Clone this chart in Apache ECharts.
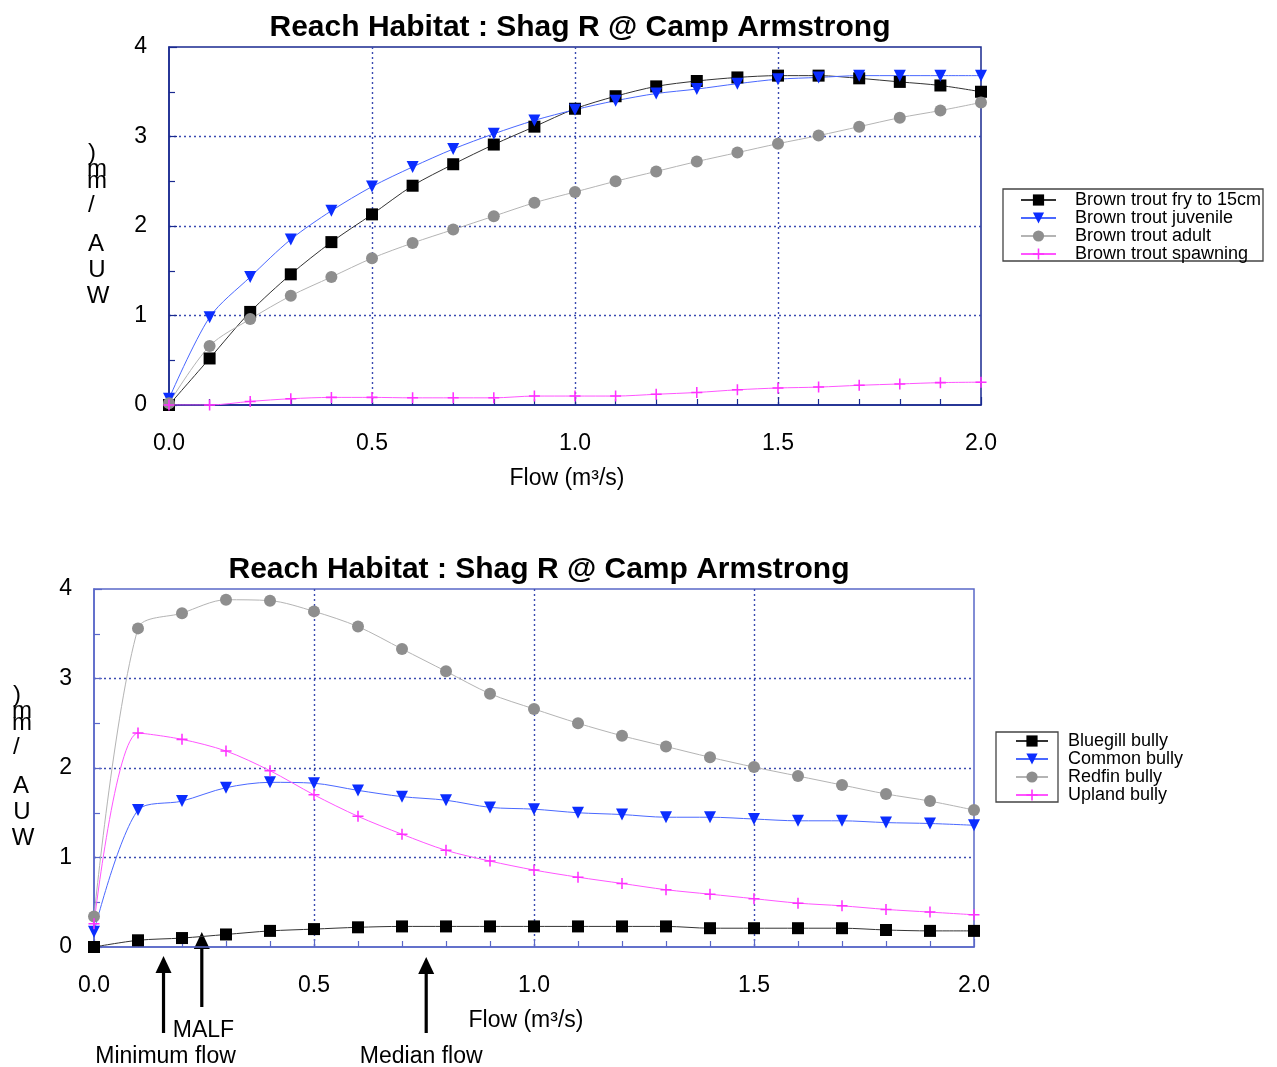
<!DOCTYPE html>
<html>
<head>
<meta charset="utf-8">
<title>Reach Habitat : Shag R @ Camp Armstrong</title>
<script src="https://cdn.jsdelivr.net/npm/echarts@6/dist/echarts.min.js"></script>
<style>
  html, body { margin: 0; padding: 0; background: #fff; }
  #chart { width: 1277px; height: 1067px; }
</style>
</head>
<body>
<div id="chart"></div>
<script>
// flow steps shared by both panels (m3/s)
const flows = [0, 0.1, 0.2, 0.3, 0.4, 0.5, 0.6, 0.7, 0.8, 0.9, 1.0,
               1.1, 1.2, 1.3, 1.4, 1.5, 1.6, 1.7, 1.8, 1.9, 2.0];

// top panel: brown trout WUA
const troutNames = ["Brown trout fry to 15cm", "Brown trout juvenile", "Brown trout adult", "Brown trout spawning"];
const troutFry = [0, 0.52, 1.04, 1.46, 1.82, 2.13, 2.45, 2.69, 2.91, 3.11, 3.31,
                  3.45, 3.56, 3.62, 3.66, 3.68, 3.68, 3.65, 3.61, 3.57, 3.50];
const troutJuvenile = [0.07, 0.98, 1.43, 1.85, 2.17, 2.44, 2.66, 2.86, 3.03, 3.18, 3.30,
                       3.40, 3.48, 3.53, 3.59, 3.64, 3.66, 3.68, 3.68, 3.68, 3.68];
const troutAdult = [0.02, 0.66, 0.96, 1.22, 1.43, 1.64, 1.81, 1.96, 2.11, 2.26, 2.38,
                    2.50, 2.61, 2.72, 2.82, 2.92, 3.01, 3.11, 3.21, 3.29, 3.38];
const troutSpawning = [0, 0, 0.04, 0.07, 0.085, 0.085, 0.08, 0.08, 0.08, 0.10, 0.10,
                       0.10, 0.12, 0.14, 0.17, 0.19, 0.20, 0.22, 0.235, 0.25, 0.255];

// bottom panel: bullies WUA
const bullyNames = ["Bluegill bully", "Common bully", "Redfin bully", "Upland bully"];
const bluegill = [0, 0.075, 0.10, 0.14, 0.18, 0.20, 0.22, 0.23, 0.23, 0.23, 0.23,
                  0.23, 0.23, 0.23, 0.21, 0.21, 0.21, 0.21, 0.19, 0.18, 0.18];
const common = [0.17, 1.53, 1.63, 1.78, 1.84, 1.83, 1.75, 1.68, 1.64, 1.56, 1.54,
                1.50, 1.48, 1.45, 1.45, 1.43, 1.41, 1.41, 1.39, 1.38, 1.36];
const redfin = [0.34, 3.56, 3.73, 3.88, 3.87, 3.75, 3.58, 3.33, 3.08, 2.83, 2.66,
                2.50, 2.36, 2.24, 2.12, 2.01, 1.91, 1.81, 1.71, 1.63, 1.53];
const upland = [0.26, 2.39, 2.32, 2.19, 1.97, 1.70, 1.46, 1.26, 1.08, 0.96, 0.86,
                0.78, 0.71, 0.64, 0.59, 0.54, 0.49, 0.46, 0.42, 0.39, 0.36];

// flow markers under the bottom panel
const markerFlows = [0.158, 0.245, 0.755];
const markerLabels = ["Minimum flow", "MALF", "Median flow"];

const titleText = "Reach Habitat : Shag R @ Camp Armstrong";
const xTitle = "Flow (m\u00b3/s)";
const yTitleChars = [")", "m", "m", "/", "A", "U", "W"];

const FONT = "Liberation Sans, Arial, sans-serif";
const plus = "path://M4.3,0H5.7V4.3H10V5.7H5.7V10H4.3V5.7H0V4.3H4.3Z";

const chart = echarts.init(document.getElementById("chart"));

function xAxisFor(gridIndex, color) {
  return {
    gridIndex: gridIndex,
    type: "value",
    min: 0, max: 2, interval: 0.5,
    name: xTitle,
    nameLocation: "middle",
    nameGap: 62,
    nameTextStyle: { fontSize: 23, fontFamily: FONT, color: "#000", padding: [0, 16, 0, 0] },
    axisLine: { show: true, lineStyle: { color: color, width: 1.5 } },
    axisTick: { show: true, inside: true, length: 8, lineStyle: { color: color, width: 1.2 } },
    minorTick: { show: true, splitNumber: 5, length: 6, lineStyle: { color: color, width: 1.2 } },
    splitLine: { show: true, showMinLine: false, showMaxLine: false,
                 lineStyle: { color: "#3a4ab0", width: 1.4, type: [2, 3] } },
    axisLabel: { fontSize: 23, fontFamily: FONT, color: "#000", margin: 27,
                 formatter: v => v.toFixed(1) }
  };
}

function yAxisFor(gridIndex, color) {
  return {
    gridIndex: gridIndex,
    type: "value",
    min: 0, max: 4, interval: 1,
    axisLine: { show: true, lineStyle: { color: color, width: 1.5 } },
    axisTick: { show: true, inside: true, length: 8, lineStyle: { color: color, width: 1.2 } },
    minorTick: { show: true, splitNumber: 2, length: 6, lineStyle: { color: color, width: 1.2 } },
    splitLine: { show: true, showMinLine: false, showMaxLine: false,
                 lineStyle: { color: "#3a4ab0", width: 1.4, type: [2, 3] } },
    axisLabel: { fontSize: 23, fontFamily: FONT, color: "#000", margin: 22 }
  };
}

const styles = [
  { symbol: "rect", symbolSize: 12, symbolRotate: 0, mark: "#000", line: "#333" },
  { symbol: "triangle", symbolSize: 12, symbolRotate: 180, mark: "#0b2dff", line: "#4a68ff" },
  { symbol: "circle", symbolSize: 12, symbolRotate: 0, mark: "#8e8e8e", line: "#b4b4b4" },
  { symbol: plus, symbolSize: 11, symbolRotate: 0, mark: "#ff30ff", line: "#ff55ff" }
];

function lineSeries(name, values, idx, gridIndex) {
  const s = styles[idx];
  return {
    name: name,
    type: "line",
    xAxisIndex: gridIndex,
    yAxisIndex: gridIndex,
    data: flows.map((f, i) => [f, values[i]]),
    smooth: 0.3,
    symbol: s.symbol,
    symbolSize: s.symbolSize,
    symbolRotate: s.symbolRotate,
    showAllSymbol: true,
    itemStyle: { color: s.mark },
    lineStyle: { color: s.line, width: 1 },
    emphasis: { disabled: true }
  };
}

function legendFor(names, left, top, width, pad) {
  return {
    data: names,
    orient: "vertical",
    left: left,
    top: top,
    itemWidth: width,
    itemHeight: 14,
    itemGap: 0,
    selectedMode: false,
    textStyle: { fontSize: 18, lineHeight: 18, fontFamily: FONT, color: "#000", padding: [0, 0, 0, pad] }
  };
}

chart.setOption({
  animation: false,
  backgroundColor: "#fff",
  title: [
    { text: titleText, left: 575, top: 8, textAlign: "center",
      textStyle: { fontSize: 30, fontWeight: "bold", fontFamily: FONT, color: "#000" } },
    { text: titleText, left: 534, top: 550, textAlign: "center",
      textStyle: { fontSize: 30, fontWeight: "bold", fontFamily: FONT, color: "#000" } }
  ],
  grid: [
    { left: 169, top: 47, width: 812, height: 358, show: true, borderColor: "#1a2a90", borderWidth: 1.5 },
    { left: 94, top: 589, width: 880, height: 358, show: true, borderColor: "#5a68c8", borderWidth: 1.5 }
  ],
  xAxis: [xAxisFor(0, "#1a2a90"), xAxisFor(1, "#5a68c8")],
  yAxis: [yAxisFor(0, "#1a2a90"), yAxisFor(1, "#5a68c8")],
  legend: [
    legendFor(troutNames, 1015, 186, 35, 14),
    legendFor(bullyNames, 1010, 727, 32, 15)
  ],
  series: [
    lineSeries(troutNames[0], troutFry, 0, 0),
    lineSeries(troutNames[1], troutJuvenile, 1, 0),
    lineSeries(troutNames[2], troutAdult, 2, 0),
    lineSeries(troutNames[3], troutSpawning, 3, 0),
    lineSeries(bullyNames[0], bluegill, 0, 1),
    lineSeries(bullyNames[1], common, 1, 1),
    lineSeries(bullyNames[2], redfin, 2, 1),
    lineSeries(bullyNames[3], upland, 3, 1)
  ]
});

// extra drawing: stacked y titles, legend boxes, flow arrows
const graphics = [];

const yTitleLayout = [
  { dx: -81, dy: -252, align: "left" },
  { dx: -72, dy: -236, align: "center" },
  { dx: -72, dy: -224, align: "center" },
  { dx: -81, dy: -200, align: "left" },
  { dx: -73, dy: -161, align: "center" },
  { dx: -72, dy: -135, align: "center" },
  { dx: -71, dy: -109, align: "center" }
];
[0, 1].forEach(g => {
  const origin = chart.convertToPixel({ gridIndex: g }, [0, 0]);
  yTitleChars.forEach((ch, i) => {
    const l = yTitleLayout[i];
    graphics.push({
      type: "text",
      style: { text: ch, x: origin[0] + l.dx, y: origin[1] + l.dy,
               fontSize: 24, fontFamily: FONT, fill: "#000",
               textAlign: l.align, textVerticalAlign: "middle" }
    });
  });
});

graphics.push({ type: "rect", shape: { x: 1003, y: 189, width: 260, height: 72 },
                style: { fill: "none", stroke: "#444", lineWidth: 1.3 } });
graphics.push({ type: "rect", shape: { x: 996, y: 732, width: 62, height: 70 },
                style: { fill: "none", stroke: "#444", lineWidth: 1.3 } });

const arrowLayout = [
  { tip: 9, tail: 86, labelDx: 2, labelY: 110, align: "center" },
  { tip: -15, tail: 60, labelDx: -29, labelY: 84, align: "left" },
  { tip: 10, tail: 86, labelDx: -5, labelY: 110, align: "center" }
];
markerFlows.forEach((f, i) => {
  const p = chart.convertToPixel({ gridIndex: 1 }, [f, 0]);
  const l = arrowLayout[i];
  const x = p[0], tipY = p[1] + l.tip, tailY = p[1] + l.tail;
  graphics.push({ type: "line", shape: { x1: x, y1: tailY, x2: x, y2: tipY + 14 },
                  style: { stroke: "#000", lineWidth: 3.2 } });
  graphics.push({ type: "polygon", shape: { points: [[x, tipY], [x - 8, tipY + 17], [x + 8, tipY + 17]] },
                  style: { fill: "#000" } });
  graphics.push({
    type: "text",
    style: { text: markerLabels[i], x: x + l.labelDx, y: p[1] + l.labelY,
             fontSize: 23, fontFamily: FONT, fill: "#000",
             textAlign: l.align, textVerticalAlign: "middle" }
  });
});

chart.setOption({ graphic: graphics });
</script>
</body>
</html>
